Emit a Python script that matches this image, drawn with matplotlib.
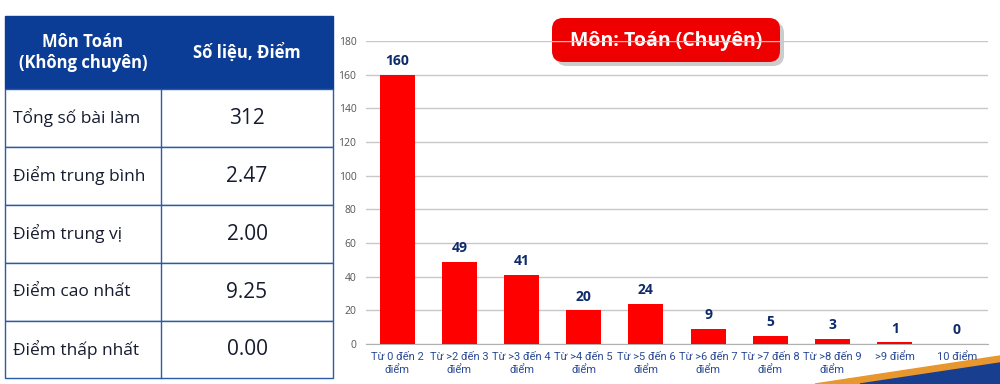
import numpy as np
import matplotlib.pyplot as plt
from matplotlib.patches import FancyBboxPatch, Rectangle, Polygon

plt.rcParams['font.family'] = ['Open Sans', 'DejaVu Sans']

# data
categories = ["Từ 0 đến 2\nđiểm", "Từ >2 đến 3\nđiểm", "Từ >3 đến 4\nđiểm", "Từ >4 đến 5\nđiểm",
              "Từ >5 đến 6\nđiểm", "Từ >6 đến 7\nđiểm", "Từ >7 đến 8\nđiểm", "Từ >8 đến 9\nđiểm",
              ">9 điểm", "10 điểm"]
counts = [160, 49, 41, 20, 24, 9, 5, 3, 1, 0]
title = "Môn: Toán (Chuyên)"

table_header = ["Môn Toán\n(Không chuyên)", "Số liệu, Điểm"]
row_labels = ["Tổng số bài làm", "Điểm trung bình", "Điểm trung vị", "Điểm cao nhất", "Điểm thấp nhất"]
row_values = ["312", "2.47", "2.00", "9.25", "0.00"]

NAVY = "#0b3c96"
LINE = "#2a5aa8"
TXT = "#161c2e"

fig = plt.figure(figsize=(10, 3.84), dpi=100)

# background / overlay in pixel coords
bg = fig.add_axes([0, 0, 1, 1])
bg.set_xlim(0, 1000)
bg.set_ylim(384, 0)
bg.axis("off")

# bottom-right decoration
bg.add_patch(Polygon([[815, 384], [1000, 356], [1000, 384]], closed=True, color="#e8962e", zorder=1))
bg.add_patch(Polygon([[860, 384], [1000, 363], [1000, 384]], closed=True, color="#173e8f", zorder=1))

# table
tx0, tx1, tsplit = 5, 333, 161
ty = [16, 89, 147, 205, 263, 321, 378]
bg.add_patch(Rectangle((tx0, ty[0]), tx1 - tx0, ty[1] - ty[0], color=NAVY, zorder=2))
bg.text((tx0 + tsplit) / 2, (ty[0] + ty[1]) / 2, table_header[0], color="white", fontsize=12,
        fontweight="bold", ha="center", va="center", linespacing=1.15, zorder=3)
bg.text((tsplit + tx1) / 2, (ty[0] + ty[1]) / 2, table_header[1], color="white", fontsize=12,
        fontweight="bold", ha="center", va="center", zorder=3)
for i in range(len(row_labels)):
    y0, y1 = ty[i + 1], ty[i + 2]
    bg.add_patch(Rectangle((tx0, y0), tx1 - tx0, y1 - y0, facecolor="white", edgecolor=LINE, lw=1, zorder=2))
    bg.text(tx0 + 8, (y0 + y1) / 2, row_labels[i], color=TXT, fontsize=12.5, ha="left", va="center", zorder=3)
    bg.text((tsplit + tx1) / 2, (y0 + y1) / 2, row_values[i], color=TXT, fontsize=15, ha="center", va="center", zorder=3)
bg.plot([tsplit, tsplit], [ty[1], ty[-1]], color=LINE, lw=1, zorder=3)

# bar chart
ax = fig.add_axes([0.366, 1 - 344 / 384, 0.622, (344 - 41) / 384])
ax.patch.set_alpha(0)
x = np.arange(len(categories))
ax.bar(x, counts, width=0.56, color="#ff0000", zorder=3)
for xi, v in zip(x, counts):
    ax.text(xi, v + 4, str(v), ha="center", va="bottom", color="#0d2a6b", fontsize=10, fontweight="bold")
ax.set_ylim(0, 180)
ax.set_xlim(-0.5, len(categories) - 0.5)
ax.set_yticks(np.arange(0, 181, 20))
ax.yaxis.grid(True, color="#c8c8c8", lw=1)
ax.set_axisbelow(True)
for s in ["top", "right", "left"]:
    ax.spines[s].set_visible(False)
ax.spines["bottom"].set_color("#b0b0b0")
ax.tick_params(axis="y", length=0, labelsize=7.5, labelcolor="#555555", pad=7)
ax.tick_params(axis="x", length=0, pad=6)
ax.set_xticks(x)
ax.set_xticklabels(categories, linespacing=1.3, family=["Roboto", "DejaVu Sans"],
                   fontsize=8, color="#2b4a94")

# title box
bg.add_patch(FancyBboxPatch((556, 22), 228, 44, boxstyle="round,pad=0,rounding_size=11",
                            facecolor="#9a9a9a", edgecolor="none", alpha=0.5, zorder=4))
bg.add_patch(FancyBboxPatch((552, 18), 228, 44, boxstyle="round,pad=0,rounding_size=11",
                            facecolor="#ee0000", edgecolor="none", zorder=5))
bg.text(666, 41, title, color="white", fontsize=14, fontweight="bold", ha="center", va="center", zorder=6)

fig.savefig("out.png", dpi=100)
